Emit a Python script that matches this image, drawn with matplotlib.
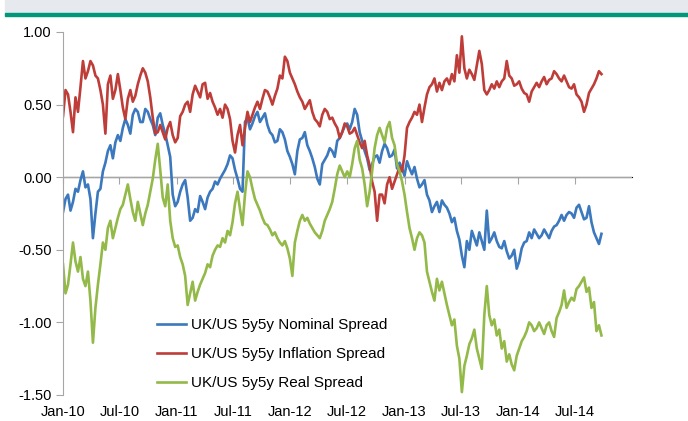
import matplotlib
matplotlib.use("Agg")
import matplotlib.pyplot as plt
import matplotlib.dates as mdates
from matplotlib.patches import Rectangle
import pandas as pd

plt.rcParams['font.family'] = ['Liberation Sans', 'DejaVu Sans']

# readings roughly every 8 days, Jan 2010 - Sep 2014
dates = pd.date_range('2010-01-01', periods=217, freq='8D')

nominal = [
    -0.24, -0.15, -0.12, -0.23, -0.17, -0.08, -0.10, -0.02, 0.04, -0.07,
    -0.05, -0.15, -0.42, -0.25, -0.10, -0.08, 0.04, 0.10, 0.18, 0.22,
    0.13, 0.24, 0.29, 0.25, 0.34, 0.40, 0.36, 0.30, 0.43, 0.47,
    0.45, 0.38, 0.38, 0.47, 0.45, 0.40, 0.36, 0.29, 0.41, 0.44,
    0.36, 0.30, 0.22, 0.14, -0.12, -0.20, -0.17, -0.10, -0.05, -0.02,
    -0.14, -0.30, -0.28, -0.22, -0.24, -0.13, -0.17, -0.22, -0.14, -0.10,
    -0.08, -0.03, -0.05, -0.01, 0.02, 0.05, 0.09, 0.15, 0.13, 0.05,
    -0.01, -0.08, -0.10, 0.38, 0.41, 0.33, 0.37, 0.42, 0.45, 0.38,
    0.41, 0.44, 0.36, 0.31, 0.29, 0.24, 0.25, 0.33, 0.31, 0.26,
    0.18, 0.14, 0.09, 0.02, 0.18, 0.26, 0.27, 0.31, 0.22, 0.18,
    0.13, 0.07, -0.01, -0.05, 0.09, 0.12, 0.15, 0.20, 0.18, 0.14,
    0.25, 0.27, 0.31, 0.35, 0.37, 0.33, 0.38, 0.47, 0.43, 0.31,
    0.25, 0.18, 0.13, 0.05, 0.09, 0.14, 0.15, 0.10, 0.18, 0.23,
    0.20, 0.14, 0.15, 0.19, 0.06, 0.10, 0.06, 0.01, 0.11, 0.06,
    0.02, 0.07, -0.01, -0.07, -0.05, -0.02, -0.12, -0.16, -0.24, -0.20,
    -0.17, -0.24, -0.16, -0.19, -0.21, -0.25, -0.31, -0.28, -0.37, -0.43,
    -0.54, -0.62, -0.44, -0.50, -0.37, -0.42, -0.47, -0.38, -0.44, -0.50,
    -0.23, -0.45, -0.42, -0.38, -0.44, -0.48, -0.49, -0.44, -0.51, -0.56,
    -0.54, -0.50, -0.63, -0.58, -0.49, -0.45, -0.44, -0.38, -0.42, -0.36,
    -0.39, -0.42, -0.40, -0.36, -0.39, -0.42, -0.37, -0.34, -0.33, -0.30,
    -0.26, -0.30, -0.26, -0.24, -0.25, -0.28, -0.21, -0.19, -0.24, -0.29,
    -0.28, -0.20, -0.31, -0.38, -0.42, -0.46, -0.39,
]

inflation = [
    0.42, 0.60, 0.57, 0.45, 0.31, 0.55, 0.45, 0.62, 0.80, 0.68,
    0.73, 0.80, 0.77, 0.70, 0.68, 0.60, 0.50, 0.30, 0.64, 0.70,
    0.54, 0.60, 0.71, 0.60, 0.48, 0.40, 0.54, 0.60, 0.52, 0.56,
    0.64, 0.70, 0.75, 0.72, 0.66, 0.55, 0.41, 0.30, 0.31, 0.36,
    0.31, 0.26, 0.34, 0.38, 0.29, 0.24, 0.27, 0.42, 0.45, 0.50,
    0.52, 0.45, 0.57, 0.63, 0.59, 0.55, 0.64, 0.65, 0.54, 0.58,
    0.52, 0.48, 0.43, 0.47, 0.41, 0.50, 0.47, 0.40, 0.25, 0.17,
    0.29, 0.36, 0.22, 0.34, 0.45, 0.38, 0.43, 0.48, 0.52, 0.47,
    0.54, 0.60, 0.59, 0.55, 0.50, 0.56, 0.61, 0.70, 0.68, 0.83,
    0.80, 0.72, 0.68, 0.64, 0.59, 0.55, 0.52, 0.47, 0.50, 0.53,
    0.45, 0.40, 0.38, 0.35, 0.43, 0.47, 0.45, 0.40, 0.41, 0.37,
    0.34, 0.27, 0.31, 0.37, 0.35, 0.30, 0.31, 0.34, 0.29, 0.24,
    0.20, 0.25, 0.15, 0.08, -0.03, -0.10, -0.30, -0.12, -0.12, -0.18,
    -0.05, 0.00, -0.08, -0.03, 0.02, 0.07, 0.04, 0.15, 0.34, 0.38,
    0.41, 0.45, 0.43, 0.50, 0.38, 0.48, 0.57, 0.62, 0.64, 0.68,
    0.59, 0.65, 0.60, 0.66, 0.68, 0.64, 0.71, 0.66, 0.84, 0.72,
    0.97, 0.75, 0.68, 0.74, 0.71, 0.67, 0.77, 0.87, 0.78, 0.60,
    0.57, 0.60, 0.64, 0.61, 0.66, 0.62, 0.66, 0.68, 0.80, 0.70,
    0.68, 0.63, 0.64, 0.66, 0.61, 0.58, 0.57, 0.52, 0.59, 0.62,
    0.65, 0.62, 0.66, 0.69, 0.64, 0.67, 0.68, 0.73, 0.71, 0.68,
    0.66, 0.70, 0.66, 0.62, 0.61, 0.64, 0.57, 0.55, 0.52, 0.45,
    0.50, 0.58, 0.61, 0.64, 0.68, 0.73, 0.71,
]

real = [
    -0.60, -0.80, -0.74, -0.60, -0.45, -0.58, -0.65, -0.55, -0.70, -0.75,
    -0.65, -0.85, -1.14, -0.90, -0.74, -0.60, -0.45, -0.50, -0.35, -0.30,
    -0.42, -0.35, -0.28, -0.22, -0.19, -0.12, -0.05, -0.15, -0.24, -0.30,
    -0.17, -0.25, -0.33, -0.25, -0.19, -0.10, -0.01, 0.12, 0.23, 0.05,
    -0.14, -0.20, -0.05, -0.30, -0.42, -0.48, -0.47, -0.55, -0.60, -0.68,
    -0.88, -0.80, -0.72, -0.85, -0.79, -0.74, -0.70, -0.66, -0.60, -0.62,
    -0.54, -0.50, -0.47, -0.48, -0.42, -0.45, -0.37, -0.40, -0.31, -0.18,
    -0.10, -0.22, -0.33, -0.12, 0.04, 0.00, -0.08, -0.15, -0.19, -0.23,
    -0.28, -0.32, -0.33, -0.36, -0.40, -0.38, -0.42, -0.45, -0.47, -0.44,
    -0.49, -0.56, -0.68, -0.45, -0.37, -0.30, -0.26, -0.30, -0.28, -0.32,
    -0.35, -0.38, -0.40, -0.42, -0.37, -0.30, -0.26, -0.22, -0.17, -0.08,
    0.02, 0.08, 0.04, 0.00, 0.04, 0.00, 0.09, 0.20, 0.25, 0.12,
    0.06, -0.05, -0.20, -0.10, 0.04, 0.20, 0.29, 0.34, 0.29, 0.24,
    0.34, 0.38, 0.27, 0.22, 0.09, 0.04, -0.03, -0.12, -0.24, -0.35,
    -0.42, -0.50, -0.42, -0.38, -0.40, -0.45, -0.65, -0.72, -0.79, -0.85,
    -0.70, -0.78, -0.72, -0.80, -0.88, -0.95, -1.02, -0.98, -1.16, -1.25,
    -1.48, -1.30, -1.23, -1.15, -1.11, -1.05, -1.18, -1.25, -1.32, -0.95,
    -0.75, -0.95, -1.02, -0.98, -1.09, -1.05, -1.18, -1.13, -1.27, -1.22,
    -1.29, -1.33, -1.23, -1.18, -1.13, -1.10, -1.06, -1.00, -1.02, -1.06,
    -1.04, -1.00, -1.04, -1.08, -1.02, -1.00, -1.06, -1.10, -0.97, -0.93,
    -0.88, -0.78, -0.90, -0.86, -0.83, -0.85, -0.77, -0.75, -0.72, -0.69,
    -0.79, -0.76, -0.90, -0.86, -1.06, -1.02, -1.09,
]

labels = ['UK/US 5y5y Nominal Spread', 'UK/US 5y5y Inflation Spread',
          'UK/US 5y5y Real Spread']
colors = ['#3b78bd', '#be3d39', '#93b949']

fig = plt.figure(figsize=(6.88, 4.21), dpi=100)
ax = fig.add_axes([0.0916, 0.0618, 0.827, 0.8622])

# header band of the original slide
fig.patches.append(Rectangle((0.007, 1 - 13 / 421), 0.993, 13 / 421,
                             transform=fig.transFigure, color='#e6eaee', zorder=0))
fig.patches.append(Rectangle((0.007, 1 - 16 / 421), 0.993, 2.5 / 421,
                             transform=fig.transFigure, color='#00977a', zorder=1))

ax.axhline(0, color='#a6a6a6', lw=1.0, zorder=1)

for series, lab, col in zip([nominal, inflation, real], labels, colors):
    ax.plot(dates, series, color=col, lw=1.9, label=lab, zorder=2)

ax.set_ylim(-1.5, 1.0)
ax.set_xlim(pd.Timestamp('2010-01-01'), pd.Timestamp('2015-01-01'))
ax.set_yticks([1.0, 0.5, 0.0, -0.5, -1.0, -1.5])
ax.yaxis.set_major_formatter(plt.FormatStrFormatter('%.2f'))

ticks = pd.date_range('2010-01-01', '2014-07-01', freq='6MS')
ax.set_xticks(ticks)
ax.xaxis.set_major_formatter(mdates.DateFormatter('%b-%y'))
ax.tick_params(axis='x', length=0, pad=7, labelsize=10.5)
ax.tick_params(axis='y', length=5, pad=3, color='#a6a6a6', labelsize=10.5)

for s in ['top', 'right', 'bottom']:
    ax.spines[s].set_visible(False)
ax.spines['left'].set_color('#a6a6a6')

# zero line carries the x ticks
zero = ax.secondary_xaxis(0.6)
zero.set_xticks(ticks)
zero.tick_params(axis='x', direction='out', length=5, color='#a6a6a6',
                 labelbottom=False, labeltop=False, top=False, bottom=True)
zero.xaxis.set_ticks_position('bottom')
zero.set_xticklabels([])

ax.legend(loc='upper left', bbox_to_anchor=(0.165, 0.212), frameon=False,
          fontsize=11, handlelength=1.9, handletextpad=0.35,
          labelspacing=0.98, borderaxespad=0, borderpad=0)

fig.savefig('out.png', dpi=100)
